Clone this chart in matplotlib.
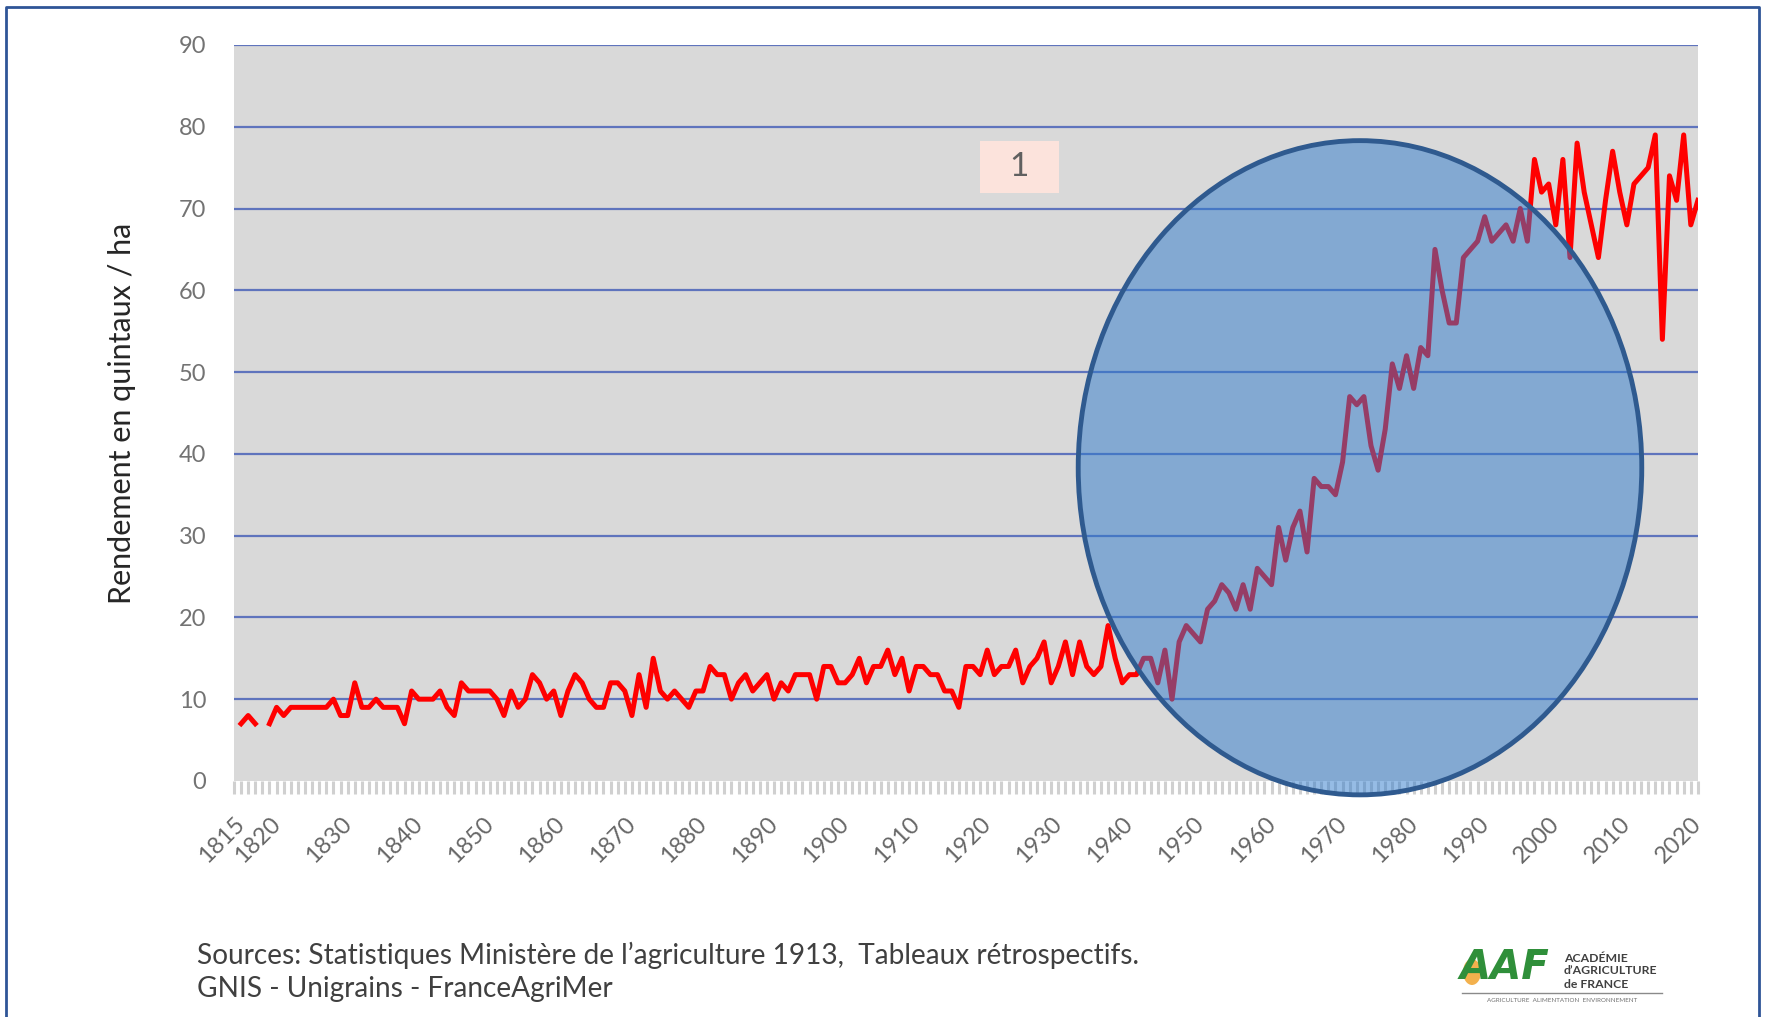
import matplotlib
matplotlib.use("Agg")
import matplotlib.pyplot as plt
import numpy as np
from matplotlib.patches import Ellipse, Rectangle
from matplotlib.lines import Line2D

plt.rcParams['font.family'] = ['Lato', 'DejaVu Sans']

# -----------------------------------
# Data : rendement du blé en France (q/ha)
# -----------------------------------

years = list(range(1815, 2022))

yield_1815_1869 = [np.nan, 7, 8, 7, np.nan, 7, 9, 8, 9, 9,
                   9, 9, 9, 9, 10, 8, 8, 12, 9, 9,
                   10, 9, 9, 9, 7, 11, 10, 10, 10, 11,
                   9, 8, 12, 11, 11, 11, 11, 10, 8, 11,
                   9, 10, 13, 12, 10, 11, 8, 11, 13, 12,
                   10, 9, 9, 12, 12]

yield_1870_1919 = [11, 8, 13, 9, 15, 11, 10, 11, 10, 9,
                   11, 11, 14, 13, 13, 10, 12, 13, 11, 12,
                   13, 10, 12, 11, 13, 13, 13, 10, 14, 14,
                   12, 12, 13, 15, 12, 14, 14, 16, 13, 15,
                   11, 14, 14, 13, 13, 11, 11, 9, 14, 14]

yield_1920_1969 = [13, 16, 13, 14, 14, 16, 12, 14, 15, 17,
                   12, 14, 17, 13, 17, 14, 13, 14, 19, 15,
                   12, 13, 13, 15, 15, 12, 16, 10, 17, 19,
                   18, 17, 21, 22, 24, 23, 21, 24, 21, 26,
                   25, 24, 31, 27, 31, 33, 28, 37, 36, 36]

yield_1970_2021 = [35, 39, 47, 46, 47, 41, 38, 43, 51, 48,
                   52, 48, 53, 52, 65, 60, 56, 56, 64, 65,
                   66, 69, 66, 67, 68, 66, 70, 66, 76, 72,
                   73, 68, 76, 64, 78, 72, 68, 64, 71, 77,
                   72, 68, 73, 74, 75, 79, 54, 74, 71, 79,
                   68, 71]

yields = yield_1815_1869 + yield_1870_1919 + yield_1920_1969 + yield_1970_2021

tick_years = [1815, 1820, 1830, 1840, 1850, 1860, 1870, 1880, 1890, 1900,
              1910, 1920, 1930, 1940, 1950, 1960, 1970, 1980, 1990, 2000,
              2010, 2020]

y_ticks = [0, 10, 20, 30, 40, 50, 60, 70, 80, 90]

# -----------------------------------
# Figure Setup
# -----------------------------------

fig = plt.figure(figsize=(17.67, 10.17), dpi=100)
fig.patch.set_facecolor("white")

ax = fig.add_axes([0.1324, 0.2321, 0.8285, 0.7237])
ax.set_facecolor("#d9d9d9")

ax.plot(years, yields, color="#ff0000", lw=3.6, zorder=3)

ax.set_xlim(1815, 2021)
ax.set_ylim(0, 90)

for side in ["top", "right", "left", "bottom"]:
    ax.spines[side].set_visible(False)

ax.set_yticks(y_ticks)
ax.set_yticklabels([str(v) for v in y_ticks], fontsize=17, color="#737373")
ax.tick_params(axis="y", length=0, pad=20)

ax.set_xticks(tick_years)
ax.set_xticklabels([str(y) for y in tick_years], fontsize=17, color="#666666",
                   rotation=45, ha="right", va="top", rotation_mode="anchor")
ax.set_xticks(years, minor=True)
ax.tick_params(axis="x", which="both", direction="out", length=9,
               width=2.2, color="#d0d0d0", pad=14)

ax.yaxis.grid(True, color="#5f74bd", lw=1.6, zorder=1)
ax.set_axisbelow(True)
ax.get_ygridlines()[0].set_visible(False)

# -----------------------------------
# Annotations
# -----------------------------------

oval = Ellipse((1973.45, 38.3), 79.3, 80.0,
               facecolor=(0.18, 0.48, 0.80, 0.5),
               edgecolor="#2f5a8f", lw=3.5, zorder=4, clip_on=False)
ax.add_patch(oval)

box = Rectangle((1919.95, 71.9), 11.1, 6.36, facecolor="#fce3dc",
                edgecolor="none", zorder=4)
ax.add_patch(box)
ax.text(1925.5, 75.1, "1", fontsize=24, color="#606060",
        ha="center", va="center", zorder=5)

fig.text(122/1767, 0.594, "Rendement en quintaux / ha", rotation=90,
         fontsize=22, color="#262626", ha="center", va="center")

fig.text(197/1767, 1 - 955/1017, "Sources: Statistiques Ministère de l\u2019agriculture 1913,  Tableaux rétrospectifs.",
         fontsize=20.2, color="#404040", ha="left", va="center")
fig.text(197/1767, 1 - 989/1017, "GNIS - Unigrains - FranceAgriMer",
         fontsize=20.2, color="#404040", ha="left", va="center")

# -----------------------------------
# Logo (approximation)
# -----------------------------------

fig.patches.append(Ellipse((1472/1767, 1 - 972/1017), 18/1767, 26/1017,
                           transform=fig.transFigure, facecolor="#f2a93a",
                           edgecolor="none", alpha=0.9))
fig.text(1460/1767, 1 - 968/1017, "AAF", fontsize=29, fontweight="heavy",
         style="italic", color="#2f8f3a", ha="left", va="center",
         family="DejaVu Sans")
fig.text(1564/1767, 1 - 958/1017, "ACADÉMIE", fontsize=8.8, color="#404040",
         ha="left", va="center", fontweight="bold")
fig.text(1564/1767, 1 - 971/1017, "d\u2019AGRICULTURE", fontsize=8.8, color="#404040",
         ha="left", va="center", fontweight="bold")
fig.text(1564/1767, 1 - 984/1017, "de FRANCE", fontsize=8.8, color="#404040",
         ha="left", va="center", fontweight="bold")
fig.lines.append(Line2D([1462/1767, 1662/1767], [1 - 993/1017, 1 - 993/1017],
                        transform=fig.transFigure, color="#8a8a8a", lw=1))
fig.text(1562/1767, 1 - 1000/1017, "AGRICULTURE  ALIMENTATION  ENVIRONNEMENT",
         fontsize=4.5, color="#707070", ha="center", va="center")

# -----------------------------------
# Cadre
# -----------------------------------

frame_x = [6/1767, 6/1767, 1759/1767, 1759/1767]
frame_y = [0.0, 1 - 7/1017, 1 - 7/1017, 0.0]
fig.lines.append(Line2D(frame_x, frame_y, transform=fig.transFigure,
                        color="#2f5597", lw=2))

fig.savefig("out.png", dpi=100)
